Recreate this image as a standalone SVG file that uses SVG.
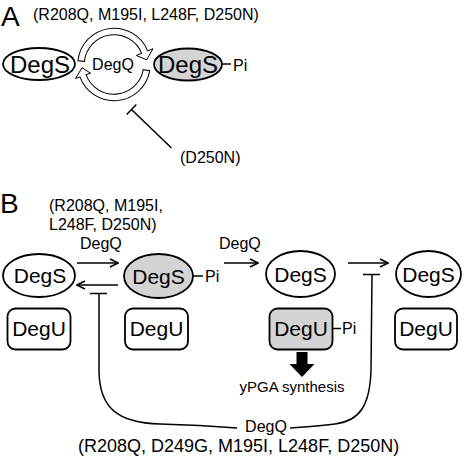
<svg xmlns="http://www.w3.org/2000/svg" width="466" height="462" viewBox="0 0 466 462">
<style>
text{font-family:"Liberation Sans",Arial,sans-serif;fill:#000}
.lbl{font-size:16px}
.big{font-size:28px}
.node{font-size:24px;text-anchor:middle}
.nodeB{font-size:21px;text-anchor:middle}
.el{fill:#fff;stroke:#000;stroke-width:1.8}
.box{fill:#fff;stroke:#000;stroke-width:1.8}
.el.gray,.box.gray{fill:#d4d4d4}
.ln{fill:none;stroke:#000;stroke-width:1.5}
</style>
<defs>
<marker id="ah" viewBox="0 0 10 10" refX="9" refY="5" markerWidth="10" markerHeight="10" markerUnits="userSpaceOnUse" orient="auto">
<path d="M1,1 L9,5 L1,9" fill="none" stroke="#000" stroke-width="1.6"/>
</marker>
</defs>

<!-- Panel A -->
<text class="big" x="1" y="26">A</text>
<text class="lbl" x="33" y="20">(R208Q, M195I, L248F, D250N)</text>

<g id="A-DegS">
<ellipse class="el" cx="39" cy="64" rx="36" ry="16"/>
<text class="node" x="40" y="72.5">DegS</text>
</g>
<g id="A-DegSPi">
<ellipse class="el gray" cx="188" cy="64.5" rx="34" ry="16"/>
<text class="node" x="188" y="73">DegS</text>
<line class="ln" x1="222" y1="64" x2="231" y2="64"/>
<text class="lbl" x="233" y="70.5">Pi</text>
</g>

<g id="A-connectors">
<path d="M81.13 61.62 A33 33 0 0 1 144.6 52.14" fill="none" stroke="#000" stroke-width="7.5"/>
<path d="M146.59 69.66 A33 33 0 0 1 82.99 75.79" fill="none" stroke="#000" stroke-width="7.5"/>
<polygon points="136.3,55.5 152.9,48.7 146.8,59.8" fill="#fff" stroke="#000" stroke-width="1"/>
<polygon points="75.5,78.5 90.5,73.1 82,67.8" fill="#fff" stroke="#000" stroke-width="1"/>
<path d="M81.25 60.48 A33 33 0 0 1 144.6 52.14 l0.6 1.4" fill="none" stroke="#fff" stroke-width="5.5"/>
<path d="M146.39 70.8 A33 33 0 0 1 82.99 75.79 l-0.5 -1.4" fill="none" stroke="#fff" stroke-width="5.5"/>
<text class="lbl" x="113" y="70" text-anchor="middle">DegQ</text>
<line class="ln" x1="131.5" y1="109.5" x2="171.5" y2="148"/>
<line class="ln" x1="126.7" y1="114.5" x2="136.3" y2="104.5"/>
<text class="lbl" x="180" y="163">(D250N)</text>
</g>

<!-- Panel B -->
<text class="big" x="0" y="213">B</text>
<text class="lbl" x="49" y="210.5">(R208Q, M195I,</text>
<text class="lbl" x="49" y="230">L248F, D250N)</text>

<g id="B-DegS1">
<ellipse class="el" cx="39" cy="275.5" rx="36" ry="21.5"/>
<text class="nodeB" x="40" y="283">DegS</text>
</g>
<g id="B-DegSPi">
<ellipse class="el gray" cx="158.5" cy="276" rx="34.5" ry="22"/>
<text class="nodeB" x="158.5" y="283.5">DegS</text>
<line class="ln" x1="193" y1="276" x2="203" y2="276"/>
<text class="lbl" x="205" y="281.5">Pi</text>
</g>
<g id="B-DegS3">
<ellipse class="el" cx="300.5" cy="274" rx="34.5" ry="23"/>
<text class="nodeB" x="300.5" y="281.5">DegS</text>
</g>
<g id="B-DegS4">
<ellipse class="el" cx="428.5" cy="274" rx="32.5" ry="23"/>
<text class="nodeB" x="428.5" y="281.5">DegS</text>
</g>

<g id="B-DegU1">
<rect class="box" x="7.5" y="308.5" width="63" height="41" rx="8"/>
<text class="nodeB" x="39" y="336">DegU</text>
</g>
<g id="B-DegU2">
<rect class="box" x="125" y="308.5" width="63" height="41" rx="8"/>
<text class="nodeB" x="156.5" y="336">DegU</text>
</g>
<g id="B-DegUPi">
<rect class="box gray" x="269.5" y="308.5" width="63" height="41" rx="8"/>
<text class="nodeB" x="301" y="336">DegU</text>
<line class="ln" x1="333" y1="328.5" x2="341" y2="328.5"/>
<text class="lbl" x="342" y="334">Pi</text>
</g>
<g id="B-DegU4">
<rect class="box" x="395" y="308.5" width="62" height="41" rx="8"/>
<text class="nodeB" x="426" y="336">DegU</text>
</g>

<g id="B-yPGA">
<polygon points="296.5,352 307.5,352 307.5,364 314.5,364 302,377 289.5,364 296.5,364" fill="#000"/>
<text x="292" y="391.5" font-size="15" text-anchor="middle">yPGA synthesis</text>
</g>

<g id="B-connectors">
<text class="lbl" x="80" y="249">DegQ</text>
<line class="ln" x1="77" y1="263" x2="118" y2="263" marker-end="url(#ah)"/>
<line class="ln" x1="118" y1="285" x2="77" y2="285" marker-end="url(#ah)"/>
<text class="lbl" x="219" y="248.5">DegQ</text>
<line class="ln" x1="224" y1="263" x2="258" y2="263" marker-end="url(#ah)"/>
<line class="ln" x1="348" y1="263" x2="388" y2="263" marker-end="url(#ah)"/>
<line class="ln" x1="90" y1="293.5" x2="107" y2="293.5"/>
<line class="ln" x1="363" y1="274.5" x2="380" y2="274.5"/>
<path class="ln" d="M99 293.5 L99 370 C99 408 118 423 160 424 Q200 425 237 428"/>
<path class="ln" d="M290 428 Q320 426 335 424 C360 421 370 405 371 370 L372 274.5"/>
<text class="lbl" x="266" y="432" text-anchor="middle">DegQ</text>
<text x="78" y="451.5" font-size="18">(R208Q, D249G, M195I, L248F, D250N)</text>
</g>
</svg>
